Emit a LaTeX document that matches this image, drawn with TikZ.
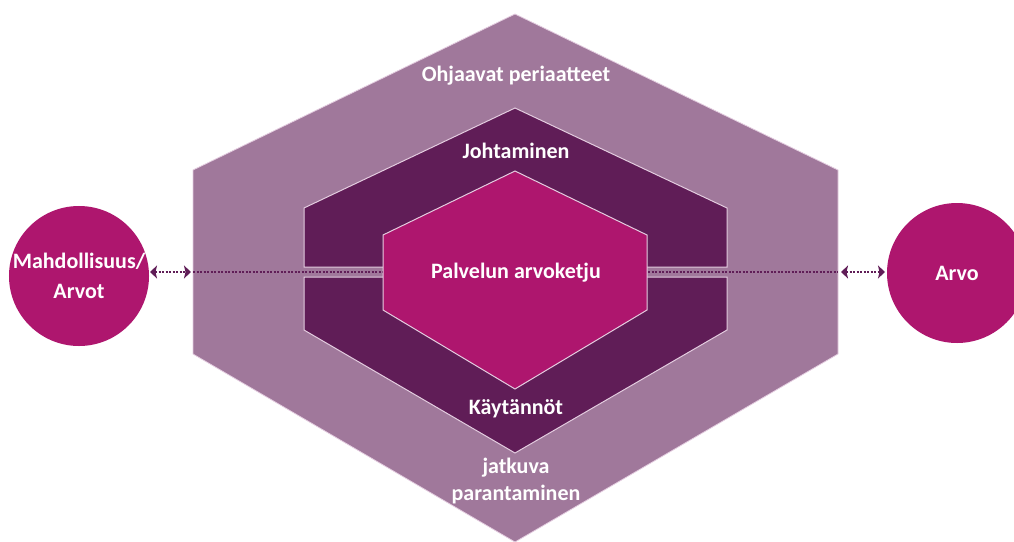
\documentclass[tikz,border=0pt]{standalone}
\usepackage{fontspec}
\setmainfont{Carlito}
\usetikzlibrary{arrows.meta}
\definecolor{outerc}{RGB}{160,120,155}
\definecolor{darkc}{RGB}{96,29,87}
\definecolor{magc}{RGB}{174,22,110}
\definecolor{edgec}{RGB}{228,205,224}
\tikzset{
  lbl/.style={text=white,font=\fontsize{22}{27}\selectfont\bfseries,align=center,inner sep=0pt},
  circ/.style={circle,fill=magc,minimum size=140pt,inner sep=0pt,text=white,font=\fontsize{22}{30}\selectfont\bfseries,align=center},
  hexedge/.style={draw=edgec,line width=1pt,line join=miter},
  link/.style={darkc,line width=1.3pt,dash pattern=on 2.2pt off 1.3pt},
  arr/.style={darkc,line width=1.3pt,dash pattern=on 2.2pt off 1.3pt,{Stealth[length=7pt,width=13pt,inset=1.5pt]}-{Stealth[length=7pt,width=13pt,inset=1.5pt]}}
}
\begin{document}
\begin{tikzpicture}[x=1pt,y=-1pt]
\useasboundingbox (0,0) rectangle (1014,541);
\clip (0,0) rectangle (1014,541);
% outer hexagon
\filldraw[fill=outerc,draw=edgec,line width=0.8pt] (515,14) -- (838,170) -- (838,354) -- (515,542) -- (193,354) -- (193,170) -- cycle;
% dark halves
\filldraw[fill=darkc,hexedge] (515,108) -- (727,208) -- (727,267) -- (304,267) -- (304,208) -- cycle;
\filldraw[fill=darkc,hexedge] (304,277) -- (727,277) -- (727,330) -- (515,453) -- (304,330) -- cycle;
% dashed line through middle
\coordinate (ol) at (193,272);
\coordinate (or) at (838,272);
\draw[link] (ol) -- (or);
% inner magenta hexagon
\filldraw[fill=magc,hexedge] (515,171) -- (647,235) -- (647,310) -- (515,389) -- (383,310) -- (383,235) -- cycle;
% labels
\node[lbl] (t1) at (516,76) {Ohjaavat periaatteet};
\node[lbl] (t2) at (516,151) {Johtaminen};
\node[lbl] (t3) at (516,273) {Palvelun arvoketju};
\node[lbl] (t4) at (516,409) {Käytännöt};
\node[lbl] (t5) at (516,481) {jatkuva\\parantaminen};
% circles
\node[circ] (lc) at (79,276) {Mahdollisuus/\\Arvot};
\node[circ] (rc) at (957,273) {Arvo};
% arrows
\coordinate (la1) at (150,272);
\coordinate (la2) at (191,272);
\coordinate (ra1) at (841,272);
\coordinate (ra2) at (885,272);
\draw[arr] (la1) -- (la2);
\draw[arr] (ra1) -- (ra2);
\end{tikzpicture}
\end{document}
